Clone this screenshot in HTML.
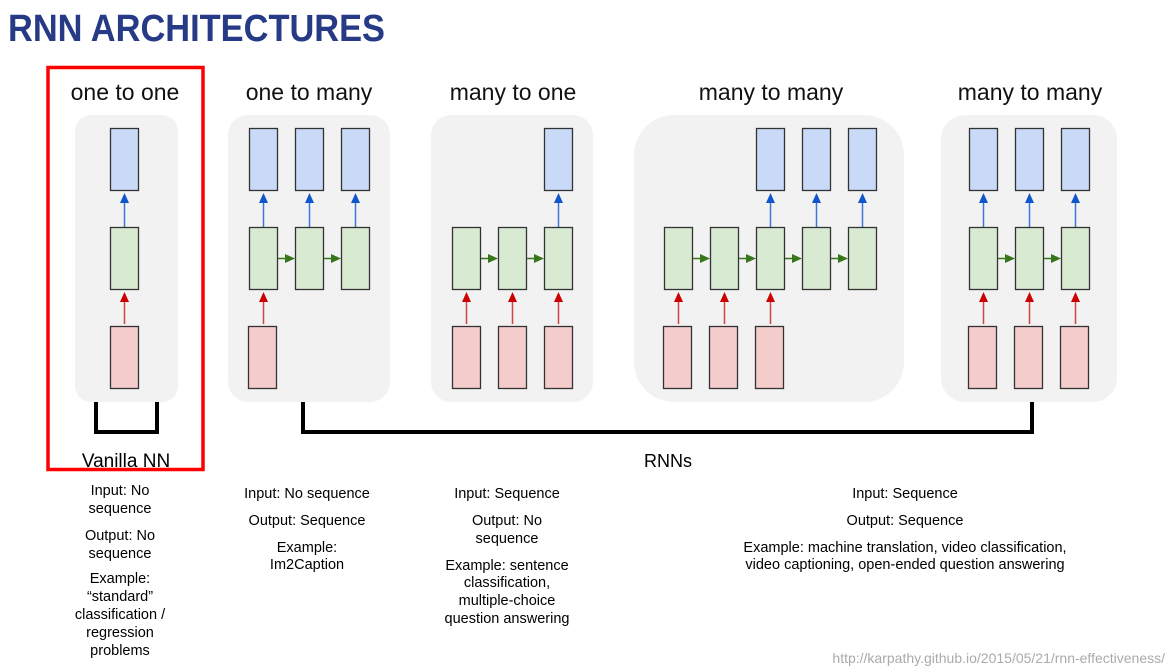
<!DOCTYPE html>
<html><head><meta charset="utf-8"><style>
html,body{margin:0;padding:0;background:#fff;}
svg{display:block;}
text{font-family:"Liberation Sans",Arial,sans-serif;}
</style></head><body>
<svg width="1171" height="667" viewBox="0 0 1171 667" xmlns="http://www.w3.org/2000/svg">
<defs>
<g id="B"><rect x="0.5" y="0.5" width="28" height="62" fill="#c9daf8" stroke="#333" stroke-width="1.3"/></g>
<g id="G"><rect x="0.5" y="0.5" width="28" height="62" fill="#d9ead3" stroke="#333" stroke-width="1.3"/></g>
<g id="R"><rect x="0.5" y="0.5" width="28" height="62" fill="#f4cccc" stroke="#333" stroke-width="1.3"/></g>
<g id="UA"><line x1="14.5" y1="99" x2="14.5" y2="74" stroke="#3c78d8" stroke-width="1.5"/><polygon points="10,75 19,75 14.5,65" fill="#1155cc"/></g>
<g id="RA"><line x1="14.5" y1="196" x2="14.5" y2="173" stroke="#cc4444" stroke-width="1.5"/><polygon points="10,174 19,174 14.5,164" fill="#cc0000"/></g>
<g id="HA"><line x1="29" y1="130.5" x2="38" y2="130.5" stroke="#38761d" stroke-width="1.5"/><polygon points="36,126 36,135 46,130.5" fill="#38761d"/></g>
</defs>

<text x="8" y="41" font-size="38" font-weight="bold" fill="#263a85" textLength="377" lengthAdjust="spacingAndGlyphs">RNN ARCHITECTURES</text>

<rect x="75" y="115" width="103" height="287" rx="16" fill="#f2f2f2"/>
<rect x="228" y="115" width="162" height="287" rx="20" fill="#f2f2f2"/>
<rect x="431" y="115" width="162" height="287" rx="20" fill="#f2f2f2"/>
<rect x="634" y="115" width="270" height="287" rx="40" fill="#f2f2f2"/>
<rect x="941" y="115" width="176" height="287" rx="24" fill="#f2f2f2"/>

<g font-size="23" fill="#111" text-anchor="middle">
<text x="125" y="100">one to one</text>
<text x="309" y="100">one to many</text>
<text x="513" y="100">many to one</text>
<text x="771" y="100">many to many</text>
<text x="1030" y="100">many to many</text>
</g>

<g transform="translate(110,128)"><use href="#B"/><use href="#UA"/><use href="#G" y="99"/><use href="#RA"/><use href="#R" y="198"/></g>
<g transform="translate(249,128)"><use href="#B"/><use href="#UA"/><use href="#G" y="99"/><use href="#HA"/><use href="#RA"/><use href="#R" x="-1" y="198"/></g>
<g transform="translate(295,128)"><use href="#B"/><use href="#UA"/><use href="#G" y="99"/><use href="#HA"/></g>
<g transform="translate(341,128)"><use href="#B"/><use href="#UA"/><use href="#G" y="99"/></g>
<g transform="translate(452,128)"><use href="#G" y="99"/><use href="#HA"/><use href="#RA"/><use href="#R" y="198"/></g>
<g transform="translate(498,128)"><use href="#G" y="99"/><use href="#HA"/><use href="#RA"/><use href="#R" y="198"/></g>
<g transform="translate(544,128)"><use href="#B"/><use href="#UA"/><use href="#G" y="99"/><use href="#RA"/><use href="#R" y="198"/></g>
<g transform="translate(664,128)"><use href="#G" y="99"/><use href="#HA"/><use href="#RA"/><use href="#R" x="-1" y="198"/></g>
<g transform="translate(710,128)"><use href="#G" y="99"/><use href="#HA"/><use href="#RA"/><use href="#R" x="-1" y="198"/></g>
<g transform="translate(756,128)"><use href="#B"/><use href="#UA"/><use href="#G" y="99"/><use href="#HA"/><use href="#RA"/><use href="#R" x="-1" y="198"/></g>
<g transform="translate(802,128)"><use href="#B"/><use href="#UA"/><use href="#G" y="99"/><use href="#HA"/></g>
<g transform="translate(848,128)"><use href="#B"/><use href="#UA"/><use href="#G" y="99"/></g>
<g transform="translate(969,128)"><use href="#B"/><use href="#UA"/><use href="#G" y="99"/><use href="#HA"/><use href="#RA"/><use href="#R" x="-1" y="198"/></g>
<g transform="translate(1015,128)"><use href="#B"/><use href="#UA"/><use href="#G" y="99"/><use href="#HA"/><use href="#RA"/><use href="#R" x="-1" y="198"/></g>
<g transform="translate(1061,128)"><use href="#B"/><use href="#UA"/><use href="#G" y="99"/><use href="#RA"/><use href="#R" x="-1" y="198"/></g>

<path d="M96 402 V432 H157 V402" fill="none" stroke="#000" stroke-width="4"/>
<path d="M303 402 V432 H1032 V402" fill="none" stroke="#000" stroke-width="4"/>

<rect x="48" y="67.5" width="155" height="402" fill="none" stroke="#f00" stroke-width="3.5"/>

<text x="126" y="467" font-size="19" text-anchor="middle" fill="#000">Vanilla NN</text>
<text x="668" y="467" font-size="18" text-anchor="middle" fill="#000">RNNs</text>

<g font-size="14.5" fill="#000" text-anchor="middle">
<text x="120" y="495">Input: No</text>
<text x="120" y="513">sequence</text>
<text x="120" y="540">Output: No</text>
<text x="120" y="558">sequence</text>
<text x="120" y="583">Example:</text>
<text x="120" y="601">“standard”</text>
<text x="120" y="619">classification /</text>
<text x="120" y="637">regression</text>
<text x="120" y="655">problems</text>

<text x="307" y="498">Input: No sequence</text>
<text x="307" y="525">Output: Sequence</text>
<text x="307" y="552">Example:</text>
<text x="307" y="569">Im2Caption</text>

<text x="507" y="498">Input: Sequence</text>
<text x="507" y="525">Output: No</text>
<text x="507" y="543">sequence</text>
<text x="507" y="570">Example: sentence</text>
<text x="507" y="587">classification,</text>
<text x="507" y="605">multiple-choice</text>
<text x="507" y="623">question answering</text>

<text x="905" y="498">Input: Sequence</text>
<text x="905" y="525">Output: Sequence</text>
<text x="905" y="552">Example: machine translation, video classification,</text>
<text x="905" y="569">video captioning, open-ended question answering</text>
</g>

<text x="1165" y="663" font-size="14" fill="#aaa" text-anchor="end">http://karpathy.github.io/2015/05/21/rnn-effectiveness/</text>
</svg>
</body></html>
